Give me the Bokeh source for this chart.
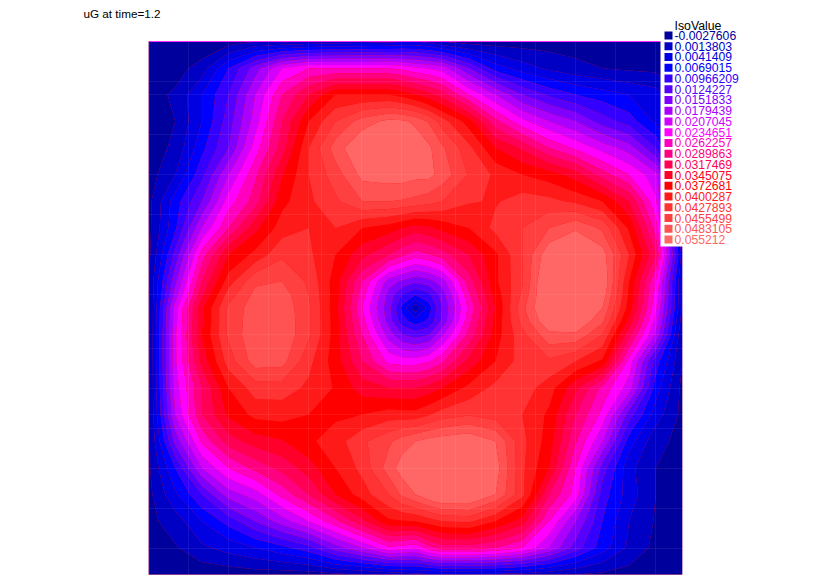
import numpy as np
from bokeh.plotting import figure
from bokeh.models import Range1d, Grid, FixedTicker
from bokeh.core.properties import value
from bokeh.embed import file_html
from bokeh.resources import INLINE

TITLE = "uG at time=1.2"
LEGEND_TITLE = "IsoValue"
ISO_LABELS = ["-0.0027606","0.0013803","0.0041409","0.0069015","0.00966209","0.0124227","0.0151833",
              "0.0179439","0.0207045","0.0234651","0.0262257","0.0289863","0.0317469","0.0345075",
              "0.0372681","0.0400287","0.0427893","0.0455499","0.0483105","0.055212"]
ISO_COLORS = ["#00009c","#0000c4","#0000e2","#0000ff","#3300ff","#5500ff","#8000ff","#aa00ff","#d400ff","#ff00ff",
              "#ff00bf","#ff0080","#ff0055","#ff002a","#ff0000","#ff1a1a","#ff3333","#ff4040","#ff5252","#ff6666"]
ISO_STEP = 0.0027606

# field, in units of ISO_STEP, top row first
U = [
[-1,-1,-1,-.5,0,0,.2,.4,.5,.7,.9,1,.6,0,-.5,-.5,-.5,-.5,-.5,-.5,-.5,-.5,-.5],
[-1,-.5,.5,3,5.5,8,9,9,9,9,8.7,8.2,7.9,7.5,5,2.5,1.5,.8,.3,0,-.2,-.3,-.5],
[-.5,.2,2,4,7,10,12,14,14,14,13.6,13,12.3,11.5,9,7,5,3.8,3,2.5,2,1.5,0],
[-.5,0,2,4.5,7.5,11,14,16,17.5,18.3,18.2,17.8,16.9,15.5,13.5,10.3,8.3,7,6,4.5,3.5,1.8,0],
[-.5,.2,2.7,5,8.5,11.5,15,17.5,19,19,19,18.7,18.2,17.2,15.3,13,11.8,10,8.8,7.6,6.5,4,0],
[-.5,1,3.7,7,9.8,12.9,15,16.5,18.3,18.5,18.5,18.3,18.3,17.6,15.9,14.8,14,13.5,12.5,10.5,9,7.3,0],
[-.3,2.5,5,8.5,10.5,13.7,14.8,15.8,17,17,16.9,16.7,16.4,16,15.1,14.9,15.5,15.3,14.8,14,12,8.2,.5],
[-.3,2.8,7,10,12.7,14.5,15,15,14,13.5,13,12.5,12.8,13.3,14,15.3,16,17,17.9,16.8,13.8,9.5,1],
[-.3,4.3,9.5,13,14.3,15.8,15.2,14,12.3,11,10.2,9.5,9.9,10.5,12,13.8,16,18.8,19,18.5,15,11,1.5],
[0,5.7,11,14.5,16.8,17,15.8,13.5,10,6.5,5.8,5.2,5.6,6.5,10.5,13.8,15.9,19.6,19.5,19,14,9,.8],
[-.2,6.4,11.8,15.5,17.3,17.5,16,13.5,9.5,5.6,3.9,3,3.7,5.4,9.8,13.4,16.2,19.6,19.6,18.6,13.8,8.6,.8],
[-.3,7.5,12.8,16.2,17.6,17.7,16.2,13.4,9,5.3,2.7,.2,2.5,5,9.2,13,16.7,19.5,19.5,18,13.5,8.2,.8],
[-.3,7.6,12.8,16.2,17.7,17.8,16.2,13.5,9.5,5.5,3.4,2.5,3.2,5.2,9.7,13.3,16.3,19,19,17.2,12.6,7.6,.4],
[-.3,7.8,13,16.2,17.8,17.8,16.2,13.5,10,6.5,5,4.5,4.9,6.8,10.3,13.5,15.7,17.7,17.8,16,11.3,6.8,0],
[-.3,7.8,12.3,15.5,17.5,17.4,15.3,13.5,11,8.7,8.5,8.5,8.9,9.8,12.3,14,15.5,15.8,15,13.8,8.6,3.5,0],
[-.3,7.5,11,14,15.5,15.5,14.8,13.9,12.5,12,12,12,12.4,13,14.3,15.3,15.5,14.5,12.2,9.7,7.5,2.5,-.3],
[-.3,7,11,13.2,14.3,14.4,14,13.8,14,14.5,14.4,14.4,14.9,15.5,15.9,15.5,15,13.8,11,8.7,4.5,1.5,-.3],
[-.3,5.3,9.2,11.5,12.5,12.9,13.8,14.5,15.8,16.8,17.5,18,18.4,18.6,18.9,18,15.3,13.5,10.1,7,2.5,.3,-.3],
[-.2,3,7,9,10.3,11.3,12.5,14,15.3,17.5,18.5,19,19.3,19.5,19.6,18.5,15.2,13,9,4.5,1.3,0,-.3],
[-.3,1.8,4,6.5,7.5,9.3,11,13,14.5,16,17.2,18,18.9,19.5,19.5,18,15.3,11,8.5,3.5,1.5,0,-.3],
[-.3,.5,2,3.4,5,6.5,8,9.7,11.7,13.8,13.9,14,14.5,15,15.2,14,12.5,9,6,3,1,-.1,-.3],
[-.5,-.1,.8,1.4,2,2.7,3.6,5.5,7,8.8,8.5,8.2,9.6,10.5,10.5,10,9,7,4.5,2.5,.8,-.3,-.5],
[-1,-1,-.7,-.6,-.5,-.5,-.5,-.2,0,.3,.5,.7,.8,.8,.8,.8,.6,.3,0,-.2,-.4,-.5,-.5],
]
MESH_X = [188,228,268,308,321,361,401,441,455,481,495,521,535,575,615,655]
MESH_Y = [81,94,134,174,214,254,294,334,348,374,388,414,428,468,508,548]

z = np.array(U) * ISO_STEP
GRID_STEP_X = (682 - 148) / 20
GRID_STEP_Y = (574 - 41) / 20
xs = np.sort(np.concatenate([148 + GRID_STEP_X * np.arange(21), 148 + GRID_STEP_X * np.array([9.5, 10.5])]))
ys = np.sort(np.concatenate([41 + GRID_STEP_Y * np.arange(21), 41 + GRID_STEP_Y * np.array([9.5, 10.5])]))
X, Y = np.meshgrid(xs, ys)
levels = [-2 * ISO_STEP] + [k * ISO_STEP for k in range(0, 19)] + [21 * ISO_STEP]

p = figure(width=822, height=579, output_backend="svg", toolbar_location=None,
           x_range=Range1d(0, 822), y_range=Range1d(579, 0),
           x_axis_type=None, y_axis_type=None, min_border=0, outline_line_color=None)
p.grid.visible = False

base = p.quad(left=[148], right=[682], top=[41], bottom=[574], fill_color="#ff0000", line_color=None, level="image")
cr = p.contour(X, Y, z, levels, fill_color=ISO_COLORS, line_color=None)
cr.level = "image"
for dim, ticks in ((0, MESH_X), (1, MESH_Y)):
    g = Grid(dimension=dim, ticker=FixedTicker(ticks=ticks), grid_line_color="white", grid_line_alpha=0.07,
             grid_line_width=1, level="underlay")
    p.add_layout(g)

p.segment(x0=[148], y0=[41], x1=[682], y1=[41], line_color="#ff30ff", line_width=1)
p.segment(x0=[148.5], y0=[41], x1=[148.5], y1=[574], line_color="#80006e", line_width=1)
p.quad(left=[660], right=[822], top=[0], bottom=[246], fill_color="white", line_color=None)
p.quad(left=[682], right=[822], top=[0], bottom=[579], fill_color="white", line_color=None)
p.quad(left=[0], right=[148], top=[0], bottom=[579], fill_color="white", line_color=None)
p.quad(left=[0], right=[822], top=[0], bottom=[40.5], fill_color="white", line_color=None)
p.quad(left=[0], right=[822], top=[574.5], bottom=[579], fill_color="white", line_color=None)

rows = 35 + 10.74 * np.arange(len(ISO_LABELS))
p.scatter(x=[668] * len(rows), y=rows, marker="square", size=8, fill_color=ISO_COLORS, line_color=None)
p.text(x=[674] * len(rows), y=rows, text=ISO_LABELS, text_color=ISO_COLORS, text_font=value("Liberation Sans"),
       text_font_size="12.2px", text_baseline="middle", text_align="left")
p.text(x=[674], y=[25], text=[LEGEND_TITLE], text_color="black", text_font=value("Liberation Sans"),
       text_font_size="12.3px", text_baseline="middle", text_align="left")
p.text(x=[83], y=[13], text=[TITLE], text_color="black", text_font=value("Liberation Sans"),
       text_font_size="11.7px", text_baseline="middle", text_align="left")

open("out.html", "w").write(file_html(p, INLINE))
